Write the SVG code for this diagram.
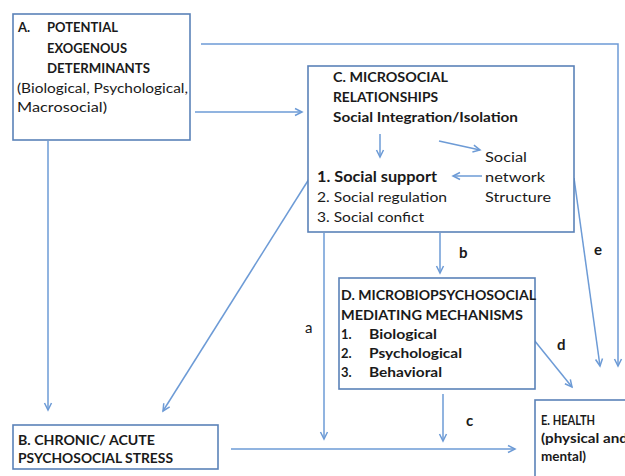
<svg xmlns="http://www.w3.org/2000/svg" width="625" height="476" viewBox="0 0 625 476">
<style>
.box{fill:#fff;stroke:#5b82b8;stroke-width:1.6}
.ln{fill:none;stroke:#6d9bd6;stroke-width:1.5}
text{font-family:Lato,"Liberation Sans",sans-serif;fill:#1a1a1a;font-size:13px}
.b{font-weight:bold}
.lbl{font-size:15px}
</style>
<defs>
<marker id="ah" markerWidth="10" markerHeight="10" refX="8" refY="5" orient="auto" markerUnits="userSpaceOnUse">
<path d="M1,1.5 L8,5 L1,8.5" fill="none" stroke="#6d9bd6" stroke-width="1.5"/>
</marker>
</defs>
<rect width="625" height="476" fill="#fff"/>
<g id="connectors">
<path class="ln" d="M201,44 H618 V366" marker-end="url(#ah)"/>
<path class="ln" d="M195,112 H302" marker-end="url(#ah)"/>
<path class="ln" d="M48,141 V410" marker-end="url(#ah)"/>
<path class="ln" d="M309,179 L163,411" marker-end="url(#ah)"/>
<path class="ln" d="M324,233 V439" marker-end="url(#ah)"/>
<path class="ln" d="M440,233 V273" marker-end="url(#ah)"/>
<path class="ln" d="M443,394 V441" marker-end="url(#ah)"/>
<path class="ln" d="M231,449 H515" marker-end="url(#ah)"/>
<path class="ln" d="M534,340 L572,387" marker-end="url(#ah)"/>
<path class="ln" d="M574,178 L600,366" marker-end="url(#ah)"/>
<text class="lbl" x="305" y="333">a</text>
<text class="lbl b" x="459" y="258">b</text>
<text class="lbl b" x="466" y="426">c</text>
<text class="lbl b" x="557" y="350">d</text>
<text class="lbl b" x="594" y="255">e</text>
</g>
<g id="nodeA">
<rect class="box" x="13" y="14" width="177" height="126"/>
<text class="b" x="18" y="32">A.</text>
<text class="b" x="47" y="32" textLength="71" lengthAdjust="spacingAndGlyphs">POTENTIAL</text>
<text class="b" x="47" y="53" textLength="80" lengthAdjust="spacingAndGlyphs">EXOGENOUS</text>
<text class="b" x="47" y="73" textLength="103" lengthAdjust="spacingAndGlyphs">DETERMINANTS</text>
<text x="17" y="93" textLength="171" lengthAdjust="spacingAndGlyphs">(Biological, Psychological,</text>
<text x="17" y="112" textLength="90" lengthAdjust="spacingAndGlyphs">Macrosocial)</text>
</g>
<g id="nodeC">
<rect class="box" x="308" y="66" width="266" height="166"/>
<text class="b" x="333" y="82" textLength="115" lengthAdjust="spacingAndGlyphs">C. MICROSOCIAL</text>
<text class="b" x="333" y="102" textLength="105" lengthAdjust="spacingAndGlyphs">RELATIONSHIPS</text>
<text class="b" x="333" y="122" textLength="185" lengthAdjust="spacingAndGlyphs">Social Integration/Isolation</text>
<path class="ln" d="M380,134 V157" marker-end="url(#ah)"/>
<path class="ln" d="M439,141 L480,150" marker-end="url(#ah)"/>
<path class="ln" d="M482,176 H453" marker-end="url(#ah)"/>
<text class="b" x="317" y="182" style="font-size:14.5px" textLength="120" lengthAdjust="spacingAndGlyphs">1. Social support</text>
<text x="317" y="202" textLength="130" lengthAdjust="spacingAndGlyphs">2. Social regulation</text>
<text x="317" y="222" textLength="107" lengthAdjust="spacingAndGlyphs">3. Social confict</text>
<text x="485" y="162" textLength="42" lengthAdjust="spacingAndGlyphs">Social</text>
<text x="485" y="182" textLength="60" lengthAdjust="spacingAndGlyphs">network</text>
<text x="485" y="202" textLength="66" lengthAdjust="spacingAndGlyphs">Structure</text>
</g>
<g id="nodeD">
<rect class="box" x="339" y="278" width="196" height="111"/>
<text class="b" x="341" y="300" textLength="195" lengthAdjust="spacingAndGlyphs">D. MICROBIOPSYCHOSOCIAL</text>
<text class="b" x="341" y="320" textLength="182" lengthAdjust="spacingAndGlyphs">MEDIATING MECHANISMS</text>
<text class="b" x="341" y="339">1.</text>
<text class="b" x="369" y="339" textLength="68" lengthAdjust="spacingAndGlyphs">Biological</text>
<text class="b" x="341" y="358">2.</text>
<text class="b" x="369" y="358" textLength="93" lengthAdjust="spacingAndGlyphs">Psychological</text>
<text class="b" x="341" y="377">3.</text>
<text class="b" x="369" y="377" textLength="73" lengthAdjust="spacingAndGlyphs">Behavioral</text>
</g>
<g id="nodeB">
<rect class="box" x="13" y="425" width="205" height="44"/>
<text class="b" x="18" y="445" textLength="137" lengthAdjust="spacingAndGlyphs">B. CHRONIC/ ACUTE</text>
<text class="b" x="18" y="463" textLength="155" lengthAdjust="spacingAndGlyphs">PSYCHOSOCIAL STRESS</text>
</g>
<g id="nodeE">
<rect class="box" x="535" y="400" width="110" height="90"/>
<text class="b" x="541" y="425" textLength="54" lengthAdjust="spacingAndGlyphs">E. HEALTH</text>
<text class="b" x="541" y="443" textLength="87" lengthAdjust="spacingAndGlyphs">(physical and</text>
<text class="b" x="541" y="461" textLength="45" lengthAdjust="spacingAndGlyphs">mental)</text>
</g>
</svg>
